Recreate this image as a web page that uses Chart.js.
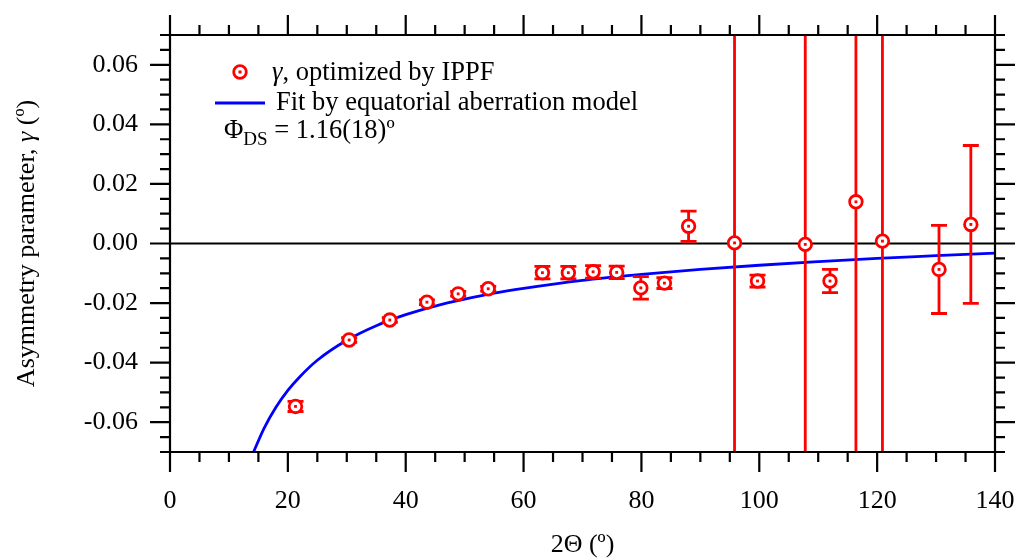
<!DOCTYPE html>
<html>
<head>
<meta charset="utf-8">
<script src="https://cdn.jsdelivr.net/npm/chart.js@4.4.1/dist/chart.umd.min.js"></script>
<style>
  html, body { margin: 0; padding: 0; background: #fff; }
  #wrap { width: 1015px; height: 558px; }
</style>
</head>
<body>
<div id="wrap"><canvas id="gammaChart" width="1015" height="558"></canvas></div>
<script>
// measured asymmetry parameter vs 2-theta
const twoTheta = [21.3, 30.4, 37.3, 43.6, 48.9, 54.0, 63.2, 67.6, 71.8, 75.8, 79.9, 83.9, 88.0, 95.8, 99.7, 107.8, 112.0, 116.4, 120.9, 130.5, 135.9];
const gamma = [-0.0547, -0.0324, -0.0257, -0.0197, -0.0169, -0.0152, -0.0098, -0.0098, -0.0095, -0.0097, -0.0149, -0.0133, 0.0058, 0.0002, -0.0126, -0.0003, -0.0126, 0.0140, 0.0008, -0.0087, 0.0064];
const gammaErr = [0.0017, 0.0008, 0.0008, 0.0008, 0.0008, 0.0008, 0.0021, 0.0021, 0.0021, 0.0021, 0.0038, 0.0018, 0.0051, 0.25, 0.0020, 0.25, 0.0039, 0.25, 0.25, 0.0148, 0.0265];

// fitted curve
const fitX = [14.2, 16, 18, 20, 22, 25, 30, 35, 40, 45, 50, 55, 60, 70, 80, 90, 100, 110, 120, 130, 140];
const fitY = [-0.0699, -0.0619, -0.0549, -0.0493, -0.0448, -0.0392, -0.0325, -0.0276, -0.0239, -0.0210, -0.0187, -0.0167, -0.0151, -0.0124, -0.0104, -0.0087, -0.0073, -0.0061, -0.0050, -0.0041, -0.0032];

// axes
const xTickLabels = [0, 20, 40, 60, 80, 100, 120, 140];
const yTickLabels = [-0.06, -0.04, -0.02, 0, 0.02, 0.04, 0.06];

const RED = '#ff0000';
const BLUE = '#0000ff';
const SERIF = "'Liberation Serif', 'Times New Roman', serif";
const FS = 26;

// draw a line of text made of runs with different fonts
function drawRuns(ctx, runs, x, y) {
    runs.forEach(r => {
        ctx.font = r.font;
        ctx.fillText(r.text, x, y + (r.dy || 0));
        x += ctx.measureText(r.text).width;
    });
}
function runsWidth(ctx, runs) {
    let w = 0;
    runs.forEach(r => { ctx.font = r.font; w += ctx.measureText(r.text).width; });
    return w;
}

function drawMarker(ctx, x, y) {
    ctx.beginPath();
    ctx.arc(x, y, 6.3, 0, Math.PI * 2);
    ctx.fillStyle = '#fff';
    ctx.fill();
    ctx.lineWidth = 2.8;
    ctx.strokeStyle = RED;
    ctx.stroke();
    ctx.fillStyle = RED;
    ctx.fillRect(x - 1.5, y - 1.5, 3, 3);
}

const framePlugin = {
    id: 'framePlugin',
    beforeDatasetsDraw(chart) {
        // zero line
        const ctx = chart.ctx, a = chart.chartArea;
        const y0 = chart.scales.y.getPixelForValue(0);
        ctx.save();
        ctx.strokeStyle = '#000';
        ctx.lineWidth = 2.2;
        ctx.beginPath();
        ctx.moveTo(a.left, y0);
        ctx.lineTo(a.right, y0);
        ctx.stroke();
        ctx.restore();
    },
    beforeDatasetDraw(chart, args) {
        if (args.index !== 1) return;
        // error bars under the markers
        const ctx = chart.ctx, a = chart.chartArea;
        const xs = chart.scales.x, ys = chart.scales.y;
        ctx.save();
        ctx.beginPath();
        ctx.rect(a.left, a.top, a.width, a.height);
        ctx.clip();
        ctx.strokeStyle = RED;
        ctx.lineWidth = 2.8;
        twoTheta.forEach((t, i) => {
            const px = xs.getPixelForValue(t);
            const yHi = ys.getPixelForValue(gamma[i] + gammaErr[i]);
            const yLo = ys.getPixelForValue(gamma[i] - gammaErr[i]);
            ctx.beginPath();
            ctx.moveTo(px, yHi);
            ctx.lineTo(px, yLo);
            ctx.moveTo(px - 8, yHi);
            ctx.lineTo(px + 8, yHi);
            ctx.moveTo(px - 8, yLo);
            ctx.lineTo(px + 8, yLo);
            ctx.stroke();
        });
        ctx.restore();
    },
    afterDraw(chart) {
        const ctx = chart.ctx, a = chart.chartArea;
        const xs = chart.scales.x, ys = chart.scales.y;
        ctx.save();
        ctx.strokeStyle = '#000';
        ctx.lineWidth = 2.2;
        ctx.lineCap = 'butt';
        ctx.beginPath();
        ctx.rect(a.left, a.top, a.width, a.height);
        ctx.stroke();

        // ticks on all four sides, pointing outward
        ctx.beginPath();
        for (let v = 0; v <= 140; v += 5) {
            const px = xs.getPixelForValue(v);
            const len = v % 20 === 0 ? 20 : 10;
            ctx.moveTo(px, a.bottom);
            ctx.lineTo(px, a.bottom + len);
            ctx.moveTo(px, a.top);
            ctx.lineTo(px, a.top - len);
        }
        for (let k = -14; k <= 14; k++) {
            const py = ys.getPixelForValue(k * 0.005);
            const len = (k % 4 === 0) ? 20 : 10;
            ctx.moveTo(a.left, py);
            ctx.lineTo(a.left - len, py);
            ctx.moveTo(a.right, py);
            ctx.lineTo(a.right + len, py);
        }
        ctx.stroke();

        ctx.fillStyle = '#000';
        ctx.textBaseline = 'middle';
        ctx.textAlign = 'left';
        const normal = FS + 'px ' + SERIF;
        const italic = 'italic ' + FS + 'px ' + SERIF;
        const legendFont = '26.5px ' + SERIF;
        const legendItalic = 'italic 26.5px ' + SERIF;

        // x axis title
        const xTitle = [{ text: '2\u0398 (\u00ba)', font: normal }];
        drawRuns(ctx, xTitle, (a.left + a.right) / 2 - runsWidth(ctx, xTitle) / 2, 545);

        // y axis title
        const yTitle = [
            { text: 'Asymmetry parameter, ', font: normal },
            { text: '\u03b3', font: italic },
            { text: ' (\u00ba)', font: normal }
        ];
        ctx.save();
        ctx.translate(27, (a.top + a.bottom) / 2);
        ctx.rotate(-Math.PI / 2);
        drawRuns(ctx, yTitle, -runsWidth(ctx, yTitle) / 2, 0);
        ctx.restore();

        // legend
        drawMarker(ctx, 240, 72);
        ctx.fillStyle = '#000';
        ctx.textBaseline = 'alphabetic';
        drawRuns(ctx, [
            { text: '\u03b3', font: legendItalic },
            { text: ', optimized by IPPF', font: legendFont }
        ], 272, 80);
        ctx.strokeStyle = BLUE;
        ctx.lineWidth = 2.8;
        ctx.beginPath();
        ctx.moveTo(215, 103);
        ctx.lineTo(265, 103);
        ctx.stroke();
        drawRuns(ctx, [{ text: 'Fit by equatorial aberration model', font: legendFont }], 276, 110);
        drawRuns(ctx, [
            { text: '\u03a6', font: legendFont },
            { text: 'DS', font: '19px ' + SERIF, dy: 7 },
            { text: ' = 1.16(18)\u00ba', font: legendFont }
        ], 224, 138);
        ctx.restore();
    }
};

const ctx = document.getElementById('gammaChart').getContext('2d');
const gammaChart = new Chart(ctx, {
    type: 'scatter',
    data: {
        datasets: [{
            label: 'Fit by equatorial aberration model',
            type: 'line',
            data: fitX.map((x, i) => ({ x: x, y: fitY[i] })),
            borderColor: BLUE,
            borderWidth: 2.8,
            pointRadius: 0,
            fill: false,
            cubicInterpolationMode: 'monotone',
            order: 3
        }, {
            label: '\u03b3, optimized by IPPF',
            data: twoTheta.map((x, i) => ({ x: x, y: gamma[i] })),
            pointStyle: 'circle',
            pointRadius: 6.3,
            pointBorderWidth: 2.8,
            borderColor: RED,
            backgroundColor: '#fff',
            order: 2
        }, {
            label: 'centre',
            data: twoTheta.map((x, i) => ({ x: x, y: gamma[i] })),
            pointStyle: 'rect',
            pointRadius: 2,
            pointBorderWidth: 0,
            borderColor: RED,
            backgroundColor: RED,
            order: 1
        }]
    },
    options: {
        responsive: false,
        animation: false,
        layout: { padding: { left: 0, right: 20, top: 35, bottom: 0 } },
        plugins: {
            legend: { display: false },
            tooltip: { enabled: false }
        },
        scales: {
            x: {
                type: 'linear',
                min: 0,
                max: 140,
                grid: { display: false, drawTicks: false },
                border: { display: false },
                afterFit: s => { s.height = 106; s.paddingLeft = 0; s.paddingRight = 0; },
                afterBuildTicks: s => { s.ticks = xTickLabels.map(v => ({ value: v })); },
                ticks: {
                    padding: 34,
                    color: '#000',
                    font: { family: SERIF, size: FS },
                    callback: v => String(v)
                }
            },
            y: {
                min: -0.07,
                max: 0.07,
                grid: { display: false, drawTicks: false },
                border: { display: false },
                afterFit: s => { s.width = 170; s.paddingTop = 0; s.paddingBottom = 0; },
                afterBuildTicks: s => { s.ticks = yTickLabels.map(v => ({ value: v })); },
                ticks: {
                    padding: 32,
                    color: '#000',
                    font: { family: SERIF, size: FS },
                    callback: v => v.toFixed(2)
                }
            }
        }
    },
    plugins: [framePlugin]
});
</script>
</body>
</html>
